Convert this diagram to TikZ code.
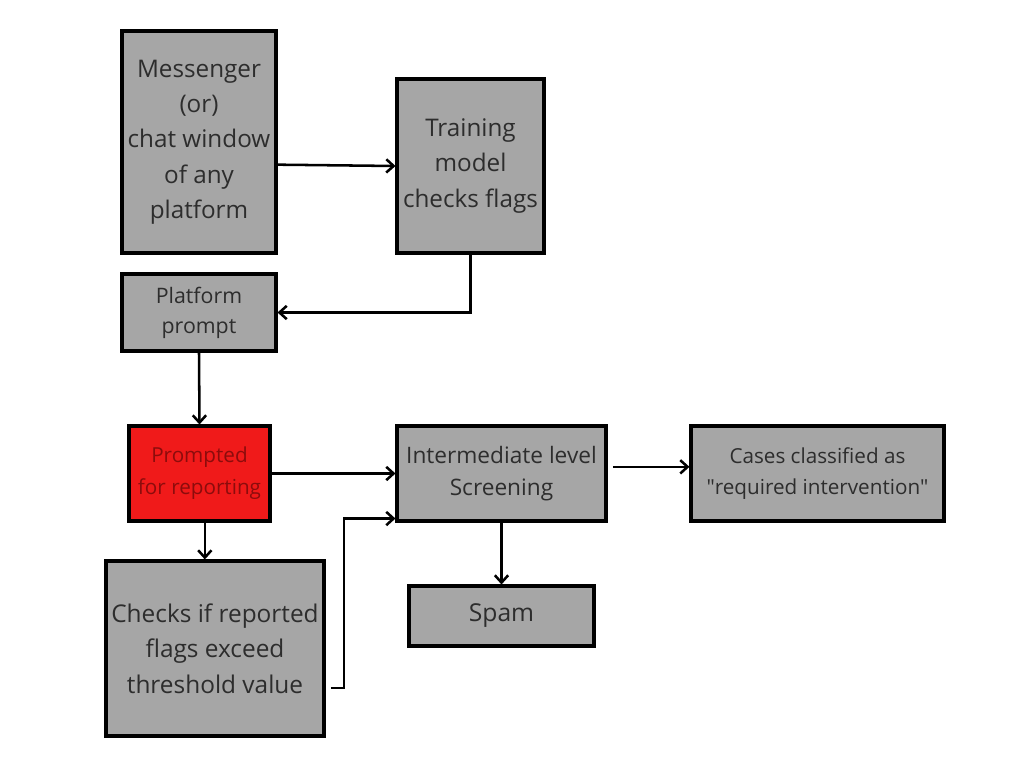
\documentclass[tikz,border=0pt]{standalone}
\usepackage{fontspec}
\setmainfont{Open Sans}
\usetikzlibrary{arrows.meta}
\definecolor{boxgray}{RGB}{166,166,166}
\definecolor{boxred}{RGB}{240,26,26}
\definecolor{txtred}{RGB}{140,12,12}
\definecolor{txtgray}{RGB}{45,45,45}
\begin{document}
\begin{tikzpicture}[x=0.75pt,y=-0.75pt,
	box/.style={draw=black,line width=2.3pt,fill=boxgray,text=txtgray,align=center,inner sep=0pt},
	arr/.style={line width=1.9pt,-{Straight Barb[length=5.5pt,width=10pt,line width=1.9pt]}}]
					\useasboundingbox (0,0) rectangle (1024,768);
					\node[box,minimum width=115.5pt,minimum height=166.5pt,font=\fontsize{18.2}{26.5}\selectfont] (M) at (199,142) {Messenger\\(or)\\chat window\\of any\\platform};
					\node[box,minimum width=110.25pt,minimum height=130.5pt,font=\fontsize{18.2}{26.5}\selectfont] (T) at (470.5,166) {Training\\model\\checks flags};
					\node[box,minimum width=115.5pt,minimum height=57.75pt,font=\fontsize{16}{22.5}\selectfont] (P) at (199,312.5) {Platform\\prompt};
					\node[box,fill=boxred,text=txtred,minimum width=105.75pt,minimum height=71.25pt,font=\fontsize{15.5}{24}\selectfont] (R) at (199.5,473.5) {Prompted\\for reporting};
					\node[box,minimum width=156.75pt,minimum height=71.25pt,font=\fontsize{17}{24.5}\selectfont] (I) at (501.5,473.5) {Intermediate level\\Screening};
					\node[box,minimum width=189.75pt,minimum height=71.25pt,font=\fontsize{15.5}{23}\selectfont] (C) at (817.5,473.5) {Cases classified as\\\textquotedbl required intervention\textquotedbl};
					\node[box,minimum width=138.75pt,minimum height=45pt,font=\fontsize{18.5}{24}\selectfont] (S) at (501.5,616) {Spam};
					\node[box,minimum width=163.5pt,minimum height=131.25pt,font=\fontsize{18.3}{26.5}\selectfont] (K) at (215,648.5) {Checks if reported\\flags exceed\\threshold value};

					\draw [arr] ([yshift=-17pt]M.east) -- (T.west);
					\draw [arr] (T.south) |- (P.east);
					\draw [arr] (P.south) -- (R.north);
					\draw [arr] (R.east) -- (I.west);
					\draw [arr] ([xshift=4pt,yshift=5pt]I.east) -- ([yshift=5pt]C.west);
					\draw [arr] (I.south) -- (S.north);
					\draw [arr] ([xshift=4pt]R.south) -- ([xshift=4pt]R.south |- K.north);
					\draw [arr] ([xshift=4pt,yshift=-29.5pt]K.east) -- ++(10pt,0) |- ([yshift=3pt]I.south west);
				\end{tikzpicture}
\end{document}
